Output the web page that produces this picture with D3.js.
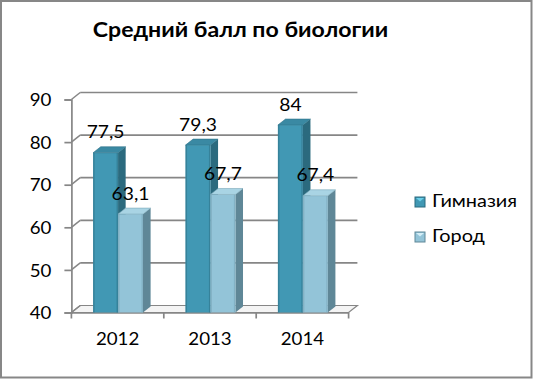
<!DOCTYPE html>
<html><head><meta charset="utf-8">
<script src="https://cdn.jsdelivr.net/npm/d3@7"></script>
<style>body{margin:0;background:#fff}svg{display:block}text{font-family:Lato,"Open Sans",sans-serif;fill:#000}</style>
</head><body>
<script>
const categories = ["2012","2013","2014"];
const seriesNames = ["Гимназия","Город"];
const gymnasium = [77.5, 79.3, 84];
const city = [63.1, 67.7, 67.4];
const valueLabels = [["77,5","79,3","84"],["63,1","67,7","67,4"]];
const yTicks = [40,50,60,70,80,90];
const title = "Средний балл по биологии";

const W=533,H=379;
const SX=1.1; // horizontal glyph stretch
const svg=d3.select("body").append("svg").attr("width",W).attr("height",H);
svg.append("rect").attr("x",1).attr("y",1).attr("width",W-2.5).attr("height",H-2.5)
  .attr("fill","#fff").attr("stroke","#878787").attr("stroke-width",2);

function stext(parent,x,y,txt,size,anchor,sx,weight){
  return parent.append("text").attr("transform",`translate(${x},${y}) scale(${sx||SX},1)`)
    .attr("text-anchor",anchor||"start").style("font-size",size+"px")
    .style("font-weight",weight||"normal").text(txt);
}

const y=d3.scaleLinear().domain([40,90]).range([312.5,99.5]);
const x0=d3.scaleBand().domain(categories).range([71.4,348.6]);
const bw=x0.bandwidth();
const DX=8.8, DY=-7;       // wall depth
const bdx=7.6, bdy=-6;     // bar depth
const grid="#868686";

// floor
const fl=[[x0.range()[0],y(40)],[x0.range()[1],y(40)],[x0.range()[1]+DX,y(40)+DY],[x0.range()[0]+DX,y(40)+DY]];
svg.append("path").attr("d",d3.line()(fl)+"Z").attr("fill","#f4f4f4").attr("stroke",grid).attr("stroke-width",1.2);

// back gridlines & diagonals
const g=svg.append("g");
yTicks.forEach(t=>{
  if(t>40) g.append("line").attr("x1",x0.range()[0]+DX).attr("x2",x0.range()[1]+DX)
    .attr("y1",y(t)+DY).attr("y2",y(t)+DY).attr("stroke",grid).attr("stroke-width",1.7);
  g.append("line").attr("x1",x0.range()[0]).attr("x2",x0.range()[0]+DX)
    .attr("y1",y(t)).attr("y2",y(t)+DY).attr("stroke",grid).attr("stroke-width",1.5);
});

// y axis
const ya=svg.append("g").attr("transform",`translate(${x0.range()[0]},0)`)
  .call(d3.axisLeft(y).tickValues(yTicks).tickSize(7).tickPadding(13));
ya.select(".domain").attr("stroke",grid).attr("stroke-width",1.7);
ya.selectAll("line").attr("stroke",grid).attr("stroke-width",1.7);
ya.selectAll("text").each(function(){
  const t=d3.select(this), x=+t.attr("x");
  t.attr("x",0).attr("dy","0.36em").attr("transform",`translate(${x},0) scale(${SX},1)`).style("font-size","17px");
});

// x axis
const xa=svg.append("g").attr("transform",`translate(0,${y(40)})`)
  .call(d3.axisBottom(x0).tickSize(0).tickPadding(20.5));
xa.select(".domain").attr("stroke",grid).attr("stroke-width",1.7);
xa.selectAll("text").style("font-size","17px").attr("transform",`scale(${SX},1)`)
  .attr("x",0);
xa.selectAll(".tick").each(function(d){
  d3.select(this).select("text").attr("transform",`scale(${SX},1)`);
});
const edges=categories.map(c=>x0(c)).concat([x0.range()[1]]);
xa.selectAll(".etick").data(edges).enter().append("line")
  .attr("x1",d=>d).attr("x2",d=>d).attr("y1",0).attr("y2",6).attr("stroke",grid).attr("stroke-width",1.7);

// bars
const series=[gymnasium,city];
const cols=[
  {front:"#4198b4",side:"#2b6a7e",top:"#3a89a3",edge:"#2f7389"},
  {front:"#93c4d8",side:"#5f8797",top:"#a9d4e4",edge:"#7aa7b9"}
];
const bars=svg.append("g");
categories.forEach((c,ci)=>{
  series.forEach((s,si)=>{
    const v=s[ci];
    const xl=x0(c)+bw*0.235+si*bw*0.27, w=bw*0.27;
    const yt=y(v), yb=y(40);
    const col=cols[si];
    bars.append("path").attr("d",d3.line()([[xl+w,yb],[xl+w+bdx,yb+bdy],[xl+w+bdx,yt+bdy],[xl+w,yt]])+"Z")
      .attr("fill",col.side);
    bars.append("rect").attr("x",xl).attr("y",yt).attr("width",w).attr("height",yb-yt).attr("fill",col.front);
    bars.append("rect").attr("x",xl).attr("y",yt).attr("width",1.5).attr("height",yb-yt).attr("fill",col.edge).attr("opacity",0.6);
    bars.append("rect").attr("x",xl+w-1.5).attr("y",yt).attr("width",1.5).attr("height",yb-yt).attr("fill",col.edge).attr("opacity",0.6);
    bars.append("path").attr("d",d3.line()([[xl,yt],[xl+w,yt],[xl+w+bdx,yt+bdy],[xl+bdx,yt+bdy]])+"Z")
      .attr("fill",col.top).attr("stroke",col.edge).attr("stroke-width",0.6);
  });
});
// value labels
categories.forEach((c,ci)=>{
  series.forEach((s,si)=>{
    const xl=x0(c)+bw*0.235+si*bw*0.27, w=bw*0.27;
    stext(svg,xl+w/2,y(s[ci])-14.5,valueLabels[si][ci],17.5,"middle");
  });
});

// title
stext(svg,240.5,36.5,title,21,"middle",1.1,"bold");

// legend
const lg=svg.append("g");
seriesNames.forEach((n,i)=>{
  const yy=197+i*35;
  lg.append("rect").attr("x",415).attr("y",yy).attr("width",10).attr("height",10)
    .attr("fill",cols[i].front).attr("stroke",cols[i].side).attr("stroke-width",1);
  lg.append("path").attr("d",`M${416},${yy+1}L${424},${yy+1}L${420},${yy+4.5}Z`).attr("fill",i?"#d4eef7":"#6cd0ea");
  stext(lg,432,yy+10.3,n,17,"start",1.17);
});
</script>
</body></html>
